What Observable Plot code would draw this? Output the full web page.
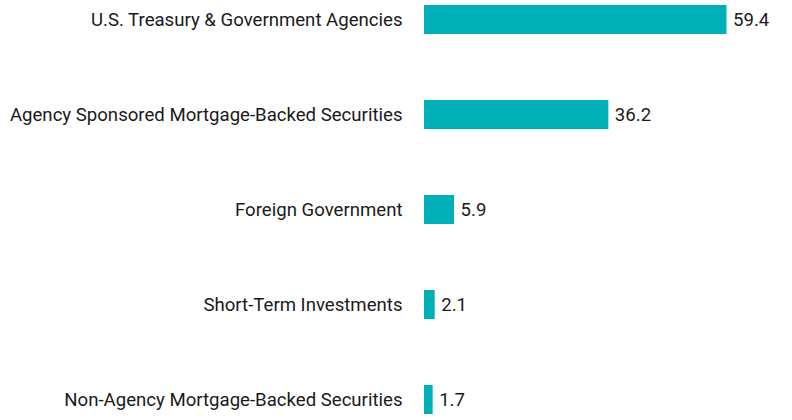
<!DOCTYPE html>
<html>
<head>
<meta charset="utf-8">
<script src="https://cdn.jsdelivr.net/npm/d3@7"></script>
<script src="https://cdn.jsdelivr.net/npm/@observablehq/plot@0.6"></script>
<style>
  html, body { margin: 0; padding: 0; background: #fff; }
  #chart svg { display: block; }
</style>
</head>
<body>
<div id="chart"></div>
<script>
const categories = [
  "U.S. Treasury & Government Agencies",
  "Agency Sponsored Mortgage-Backed Securities",
  "Foreign Government",
  "Short-Term Investments",
  "Non-Agency Mortgage-Backed Securities"
];
const values = [59.4, 36.2, 5.9, 2.1, 1.7];

const data = categories.map((c, i) => ({category: c, value: values[i]}));

const chart = Plot.plot({
  width: 792,
  height: 420,
  marginLeft: 424,
  marginRight: 65.5,
  marginTop: 0,
  marginBottom: 0,
  style: {fontFamily: "Roboto", fontSize: "18.6px", color: "#1a1a1a", background: "#fff"},
  x: {domain: [0, 59.4], axis: null},
  y: {domain: categories, range: [4, 415], paddingInner: 0.696, paddingOuter: 0, label: null},
  marks: [
    Plot.axisY({tickSize: 0, tickPadding: 22, fontSize: 18.6, fill: "#1a1a1a", label: null}),
    Plot.barX(data, {x: "value", y: "category", fill: "#00B0B9"}),
    Plot.text(data, {x: "value", y: "category", text: d => d.value.toFixed(1), textAnchor: "start", dx: 6, fontSize: 18.6, fill: "#1a1a1a"})
  ]
});
document.getElementById("chart").appendChild(chart);
</script>
</body>
</html>
